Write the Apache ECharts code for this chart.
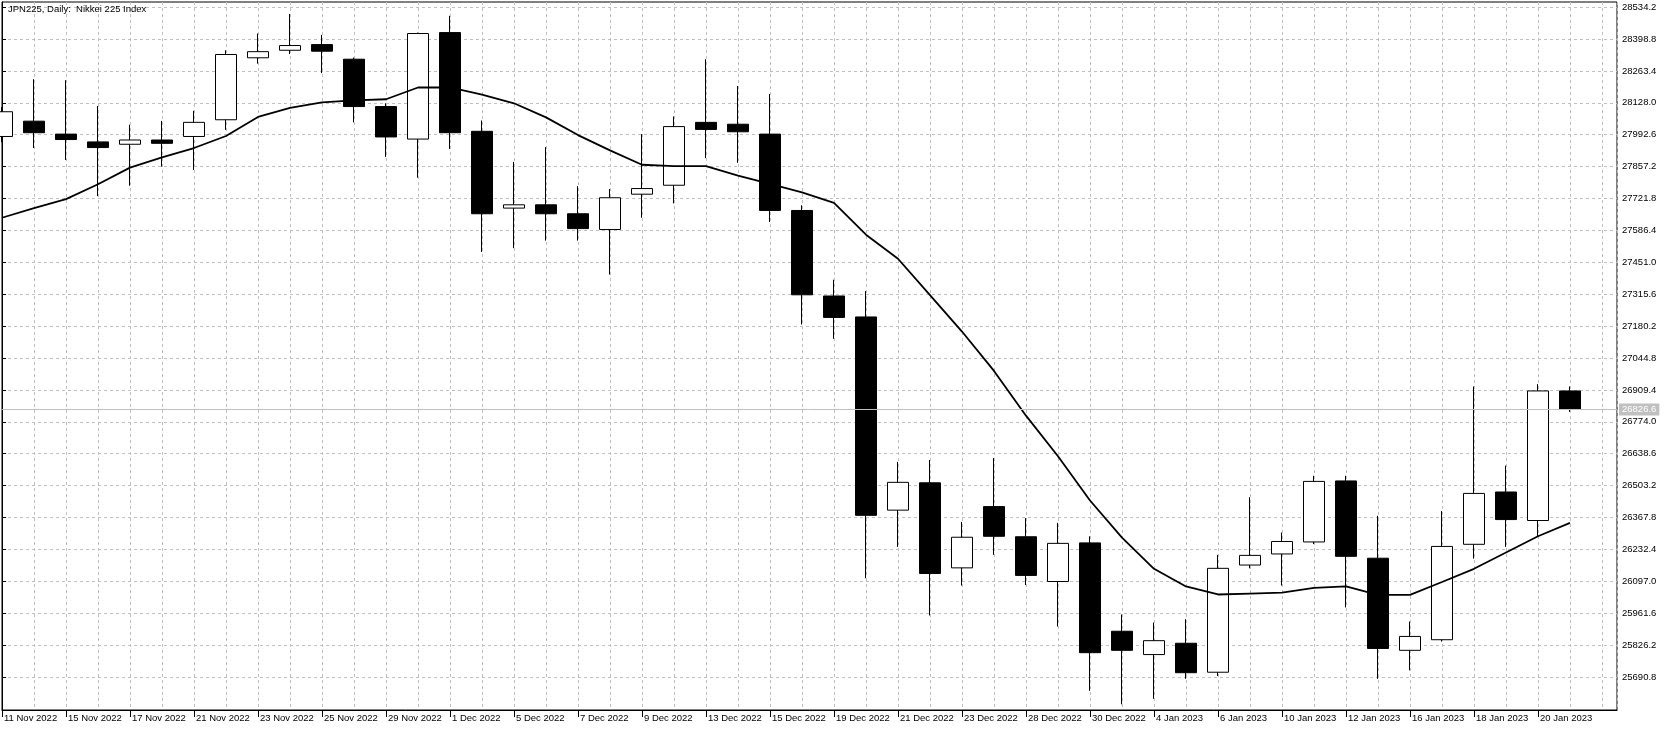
<!DOCTYPE html>
<html>
<head>
<meta charset="utf-8">
<title>JPN225 Daily</title>
<script src="https://cdn.jsdelivr.net/npm/echarts@6/dist/echarts.min.js"></script>
<style>
  html, body { margin: 0; padding: 0; background: #fff; }
  #chart { width: 1670px; height: 730px; }
</style>
</head>
<body>
<div id="chart"></div>
<script>
// bar dates (one per trading day)
const dates = ['11 Nov 2022', '14 Nov 2022', '15 Nov 2022', '16 Nov 2022', '17 Nov 2022', '18 Nov 2022',
  '21 Nov 2022', '22 Nov 2022', '23 Nov 2022', '24 Nov 2022', '25 Nov 2022', '28 Nov 2022', '29 Nov 2022',
  '30 Nov 2022', '1 Dec 2022', '2 Dec 2022', '5 Dec 2022', '6 Dec 2022', '7 Dec 2022', '8 Dec 2022',
  '9 Dec 2022', '12 Dec 2022', '13 Dec 2022', '14 Dec 2022', '15 Dec 2022', '16 Dec 2022', '19 Dec 2022',
  '20 Dec 2022', '21 Dec 2022', '22 Dec 2022', '23 Dec 2022', '27 Dec 2022', '28 Dec 2022', '29 Dec 2022',
  '30 Dec 2022', '3 Jan 2023', '4 Jan 2023', '5 Jan 2023', '6 Jan 2023', '9 Jan 2023', '10 Jan 2023',
  '11 Jan 2023', '12 Jan 2023', '13 Jan 2023', '16 Jan 2023', '17 Jan 2023', '18 Jan 2023', '19 Jan 2023',
  '20 Jan 2023', '23 Jan 2023']

const opens = [27985, 28050, 27995, 27962, 27952, 27970, 27985, 28056, 28319, 28351,
  28375, 28313, 28112, 27974, 28426, 28007, 27681, 27695, 27657, 27590,
  27740, 27778, 28045, 28037, 27995, 27671, 27308, 27219, 26399, 26515,
  26154, 26414, 26286, 26096, 26260, 25885, 25786, 25834, 25711, 26166,
  26213, 26264, 26523, 26195, 25804, 25849, 26254, 26476, 26355, 26905]

const closes = [28090, 28001, 27972, 27938, 27970, 27956, 28045, 28333, 28345, 28371,
  28347, 28112, 27983, 28422, 28001, 27657, 27695, 27657, 27594, 27725,
  27764, 28027, 28015, 28005, 27671, 27313, 27217, 26377, 26517, 26130,
  26284, 26288, 26122, 26258, 25794, 25804, 25845, 25709, 26152, 26207,
  26266, 26521, 26203, 25812, 25863, 26245, 26470, 26359, 26905, 26826.6]

const lows = [27960, 27936, 27885, 27732, 27776, 27857, 27843, 28013, 28294, 28335,
  28254, 28045, 27898, 27810, 27932, 27495, 27511, 27543, 27543, 27399,
  27640, 27701, 27893, 27873, 27622, 27187, 27126, 26110, 26243, 25952,
  26079, 26209, 26081, 25905, 25632, 25575, 25598, 25683, 25695, 26152,
  26079, 26255, 25986, 25683, 25719, 25841, 26193, 26243, 26286, 26816]

const highs = [28110, 28228, 28224, 28114, 28035, 28051, 28094, 28351, 28422, 28505,
  28416, 28320, 28126, 28426, 28497, 28053, 27877, 27940, 27774, 27762,
  27995, 28070, 28313, 28199, 28165, 27693, 27377, 27329, 26604, 26612,
  26349, 26620, 26365, 26345, 26288, 25956, 25922, 25936, 26209, 26454,
  26304, 26545, 26545, 26375, 25926, 26395, 26924, 26588, 26934, 26924]

// moving average line
const ma = [27640, 27681, 27719, 27782, 27853, 27896, 27936, 27987, 28068, 28106,
  28130, 28138, 28143, 28193, 28193, 28163, 28126, 28066, 27991, 27926,
  27865, 27859, 27859, 27819, 27784, 27748, 27703, 27568, 27466, 27312,
  27157, 26990, 26800, 26628, 26440, 26282, 26150, 26075, 26041, 26045,
  26049, 26069, 26075, 26039, 26039, 26094, 26150, 26219, 26288, 26345]

const yTicks = [25690.8, 25826.2, 25961.6, 26097.0, 26232.4, 26367.8, 26503.2, 26638.6,
  26774.0, 26909.4, 27044.8, 27180.2, 27315.6, 27451.0, 27586.4, 27721.8,
  27857.2, 27992.6, 28128.0, 28263.4, 28398.8, 28534.2]

const lastPrice = 26826.6

const font = '"Liberation Sans", Arial, sans-serif'
const gridColor = '#c0c0c0'

// x range: bars are 32px apart, plot is 1615px wide
const xMax = 1615 / 32
const labelIdx = dates.map((d, i) => i).filter(i => i % 2 === 0)

const candles = dates.map((d, i) => [i, opens[i], closes[i], lows[i], highs[i]])
const maData = ma.map((v, i) => [i, v])

const chart = echarts.init(document.getElementById('chart'))

chart.setOption({
  animation: false,
  backgroundColor: '#fff',
  title: {
    text: 'JPN225, Daily:  Nikkei 225 Index',
    left: 8,
    top: 4,
    padding: 0,
    textStyle: { fontFamily: font, fontSize: 9.5, fontWeight: 'normal', color: '#000' }
  },
  grid: {
    left: 2,
    top: 2,
    right: 53,
    bottom: 20,
    show: true,
    borderColor: '#000',
    borderWidth: 1,
    backgroundColor: '#fff'
  },
  xAxis: [{
    type: 'value',
    min: 0,
    max: xMax,
    interval: 1,
    position: 'bottom',
    axisLine: { show: false, onZero: false },
    axisTick: { show: false },
    axisLabel: { show: false },
    splitLine: { show: true, lineStyle: { color: gridColor, type: [3, 3], width: 1 } }
  }, {
    type: 'value',
    min: 0,
    max: xMax,
    position: 'bottom',
    axisLine: { show: true, onZero: false, lineStyle: { color: '#000', width: 1 } },
    axisTick: {
      show: true,
      length: 7,
      customValues: labelIdx,
      lineStyle: { color: '#000' }
    },
    axisLabel: {
      show: true,
      customValues: labelIdx,
      align: 'left',
      margin: 3,
      padding: [0, 0, 0, 2],
      fontFamily: font,
      fontSize: 9.5,
      color: '#000',
      formatter: v => dates[Math.round(v)] || ''
    },
    splitLine: { show: false }
  }],
  yAxis: {
    type: 'value',
    position: 'right',
    min: 25550.7,
    max: 28555.8,
    axisLine: { show: true, lineStyle: { color: '#000' } },
    axisTick: { show: true, length: 4, customValues: yTicks, lineStyle: { color: '#000' } },
    axisLabel: {
      customValues: yTicks,
      margin: 5,
      fontFamily: font,
      fontSize: 9.5,
      color: '#000',
      formatter: v => v.toFixed(1)
    },
    splitLine: { show: true, lineStyle: { color: gridColor, type: [3, 3], width: 1 } }
  },
  series: [{
    name: 'JPN225',
    type: 'candlestick',
    xAxisIndex: 0,
    barWidth: 21,
    data: candles,
    itemStyle: {
      color: '#ffffff',
      color0: '#000000',
      borderColor: '#000000',
      borderColor0: '#000000',
      borderWidth: 1
    },
    markLine: {
      silent: true,
      symbol: 'none',
      lineStyle: { color: '#c0c0c0', type: 'solid', width: 1 },
      label: {
        position: 'end',
        distance: 2,
        formatter: lastPrice.toFixed(1),
        color: '#fff',
        backgroundColor: '#c0c0c0',
        padding: [1, 3, 1, 3],
        fontFamily: font,
        fontSize: 9.5
      },
      data: [{ yAxis: lastPrice }]
    }
  }, {
    name: 'MA',
    type: 'line',
    xAxisIndex: 0,
    data: maData,
    showSymbol: false,
    z: 3,
    lineStyle: { color: '#000', width: 1.8 }
  }]
})
</script>
</body>
</html>
